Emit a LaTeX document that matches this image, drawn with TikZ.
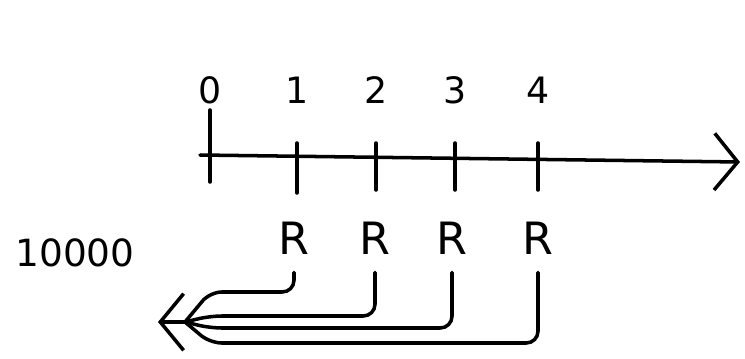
\documentclass[tikz,border=0pt]{standalone}
\usepackage{fontspec}
\setmainfont{DejaVu Sans}
\usetikzlibrary{arrows.meta,positioning,calc}

\begin{document}
\begin{tikzpicture}[
    x=0.3mm, y=-0.3mm,
    ink/.style={line width=3pt, line cap=round, line join=round},
    >={Straight Barb[length=7mm, width=17mm, line width=3pt]},
    tick/.style={font=\fontsize{31}{33}\selectfont, inner sep=0pt},
    rmark/.style={font=\fontsize{38}{40}\selectfont, inner sep=1pt},
    count/.style={font=\fontsize{32}{34}\selectfont, inner sep=0pt},
    back/.style={ink, rounded corners=10pt},
]
\useasboundingbox (0,0) rectangle (745,358);

% =====================================================================
% time axis
% =====================================================================
\coordinate (axstart) at (200,155);
\coordinate (axend) at (740,162);
\draw[ink,->] (axstart) -- (axend);

% ticks and their numbers
\foreach \x/\top/\bot/\n in {210/110/182/0, 297/143/193/1, 376/143/190/2,
                             455/143/190/3, 538/143/190/4} {
    \coordinate (t\n top) at (\x,\top);
    \coordinate (t\n bot) at (\x,\bot);
    \draw[ink] (t\n top) -- (t\n bot);
    \node[tick] (lab\n) at (\x,90) {\n};
}

% =====================================================================
% R marks and the way back to the start
% =====================================================================
\foreach \x/\n in {294/1, 375/2, 452/3, 538/4} {
    \node[rmark] (r\n) at (\x,238) {R};
}
\node[count] (cnt) at (75,253) {10000};

\coordinate (join) at (185,322);
\coordinate (tip) at (158,322);

\foreach \n/\y in {1/292, 2/316, 3/328, 4/343} {
    \draw[back] ([yshift=-5mm]r\n.south) |- (210,\y) -- (join);
}
\draw[ink,->] (join) -- (tip);

\end{tikzpicture}
\end{document}
